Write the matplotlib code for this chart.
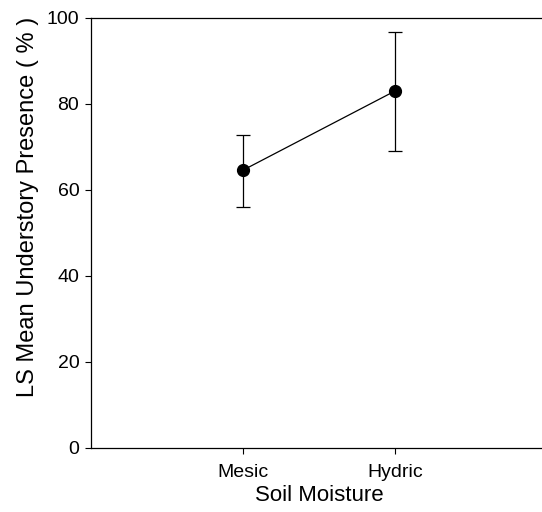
import numpy as np
import matplotlib.pyplot as plt

plt.rcParams["font.family"] = ["Liberation Sans", "DejaVu Sans"]

# LS means with asymmetric confidence limits
soil = ["Mesic", "Hydric"]
ls_mean = [64.6, 83.0]
lower = [56.1, 69.1]
upper = [72.8, 96.8]

x = np.arange(1, len(soil) + 1)
err = [np.array(ls_mean) - np.array(lower), np.array(upper) - np.array(ls_mean)]

fig = plt.figure(figsize=(5.42, 5.12), dpi=100)
ax = fig.add_axes([0.168, 0.125, 0.841, 0.84])

ax.errorbar(
    x, ls_mean, yerr=err,
    fmt="-o", color="black", markersize=8.5, linewidth=0.9,
    elinewidth=0.9, capsize=4.8, capthick=0.9,
)

ax.set_xlim(0, 3)
ax.set_ylim(0, 100)
ax.set_xticks(x)
ax.set_xticklabels(soil)
ax.set_yticks([0, 20, 40, 60, 80, 100])
ax.tick_params(direction="out", length=4.5, width=0.8, labelsize=14, pad=4)
ax.tick_params(axis="x", pad=7)
for s in ax.spines.values():
    s.set_linewidth(0.9)

ax.set_xlabel("Soil Moisture", fontsize=16, labelpad=3)
ax.set_ylabel("LS Mean Understory Presence ( % )", fontsize=17)
ax.yaxis.set_label_coords(-0.114, 0.56)

fig.savefig("out.png", dpi=100)
